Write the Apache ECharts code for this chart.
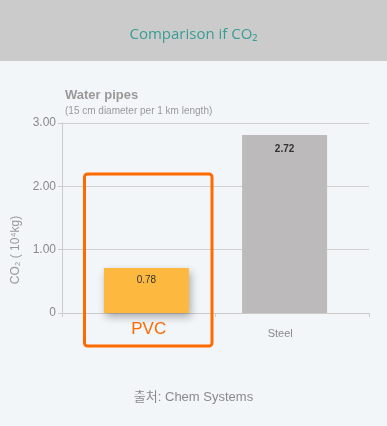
<!DOCTYPE html>
<html><head><meta charset="utf-8">
<script src="https://cdn.jsdelivr.net/npm/echarts@6/dist/echarts.min.js"></script>
<style>html,body{margin:0;padding:0;background:#f3f6f9;}#c{width:387px;height:426px;}</style>
</head><body><div id="c"></div>
<script>
const categories = ['PVC', 'Steel'];
const barHeights = [0.71, 2.81];
const valueLabels = ['0.78', '2.72'];
const yTicks = [0, 1, 2, 3];

const chart = echarts.init(document.getElementById('c'));
const font = '"Liberation Sans", Arial, sans-serif';
chart.setOption({
  backgroundColor: '#f3f6f9',
  animation: false,
  graphic: [
    { type: 'rect', shape: { x: 0, y: 0, width: 387, height: 61 }, style: { fill: '#cbcbcb' }, z: 0 },
    { type: 'rect', shape: { x: 84.5, y: 174, width: 127.5, height: 172, r: 3 }, style: { fill: 'none', stroke: '#ff6a00', lineWidth: 3 }, z: 10 }
  ],
  title: [
    { text: 'Comparison if CO\u2082', left: 'center', top: 22, textStyle: { color: '#3a9d95', fontSize: 15, fontWeight: 'normal', fontFamily: '"Open Sans", sans-serif' } },
    { text: 'Water pipes', subtext: '(15 cm diameter per 1 km length)', left: 60, top: 84, itemGap: 4,
      textStyle: { color: '#999', fontSize: 13, fontWeight: 'bold', fontFamily: font },
      subtextStyle: { color: '#999', fontSize: 10, fontFamily: font } },
    { text: '출처: Chem Systems', left: 'center', top: 386, textStyle: { color: '#8a8a8a', fontSize: 13, fontWeight: 'normal', fontFamily: '"Liberation Sans", "Noto Sans CJK KR", sans-serif' } }
  ],
  grid: { left: 62, right: 18, top: 123, bottom: 113, containLabel: false },
  xAxis: {
    type: 'category', data: categories,
    axisLine: { lineStyle: { color: '#ccc' } },
    axisTick: { show: true, length: 4, lineStyle: { color: '#ccc' } },
    axisLabel: {
      margin: 8,
      formatter: v => v === 'PVC' ? '{pvc|PVC}' : '{st|' + v + '}',
      rich: {
        pvc: { color: '#ff6a00', fontSize: 17, fontFamily: font, padding: [0, 0, 0, 20] },
        st: { color: '#8a8a8a', fontSize: 11, fontFamily: font, padding: [7, 24, 0, 0] }
      }
    }
  },
  yAxis: {
    type: 'value', min: 0, max: 3, interval: 1,
    name: 'CO\u2082 ( 10\u2074kg)', nameLocation: 'middle', nameGap: 40,
    nameTextStyle: { color: '#999', fontSize: 12, fontFamily: font, padding: [0, 64, 0, 0] },
    axisLine: { show: true, lineStyle: { color: '#ccc' } },
    axisTick: { show: true, length: 4, lineStyle: { color: '#ccc' } },
    splitLine: { lineStyle: { color: '#d0d0d0' } },
    axisLabel: { color: '#8a8a8a', fontSize: 12, fontFamily: font, margin: 6,
      formatter: v => v === 0 ? '0' : v.toFixed(2) }
  },
  series: [
    { type: 'bar', name: 'Steel', barWidth: 85, barGap: '-82%',
      data: [null, barHeights[1]],
      itemStyle: { color: '#bcbaba' },
      label: { show: true, position: 'insideTop', distance: 9, color: '#333', fontSize: 10, fontWeight: 'bold', fontFamily: font, formatter: () => valueLabels[1] } },
    { type: 'bar', name: 'PVC', barWidth: 85,
      data: [barHeights[0], null],
      itemStyle: { color: '#fdb93f', shadowBlur: 8, shadowOffsetX: 2, shadowOffsetY: 4, shadowColor: 'rgba(0,0,0,0.3)' },
      label: { show: true, position: 'insideTop', distance: 7, color: '#333', fontSize: 10, fontFamily: font, formatter: () => valueLabels[0] } }
  ]
});
</script></body></html>
